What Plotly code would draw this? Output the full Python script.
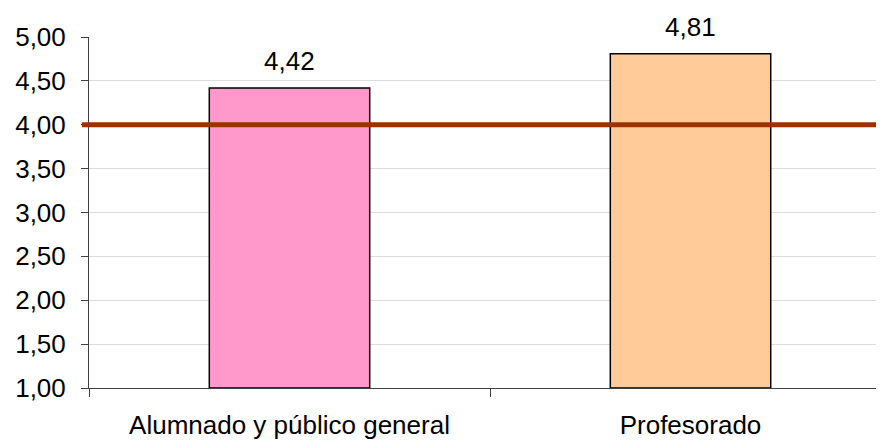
import plotly.graph_objects as go

categories = ["Alumnado y público general", "Profesorado"]
values = [4.42, 4.81]
bar_colors = ["#FF99CC", "#FFCC99"]
reference_value = 4.00
y_ticks = [1.0, 1.5, 2.0, 2.5, 3.0, 3.5, 4.0, 4.5, 5.0]

FONT = "Liberation Sans, Arial"
FS = 26

fig = go.Figure()
fig.add_trace(go.Bar(
    x=categories, y=[v - 1.0 for v in values], base=1.0,
    marker=dict(color=bar_colors, line=dict(color="black", width=1.5)),
    width=0.4, hoverinfo="skip",
))

for c, v in zip(categories, values):
    fig.add_annotation(x=c, y=v, text=f"{v:.2f}".replace(".", ","),
                       showarrow=False, yshift=27, yanchor="middle",
                       font=dict(size=FS, color="black", family=FONT))

fig.add_shape(type="line", xref="paper", yref="y", x0=-0.009, x1=1,
              y0=reference_value, y1=reference_value,
              line=dict(color="#993300", width=5), layer="above")

fig.update_layout(
    width=884, height=442,
    margin=dict(l=81, r=8, t=29, b=62),
    paper_bgcolor="white", plot_bgcolor="white",
    showlegend=False,
    separators=",.",
    font=dict(family=FONT, size=FS, color="black"),
)
fig.update_xaxes(
    range=[-0.5, 1.4825], showgrid=False,
    showline=True, linecolor="#404040", linewidth=1,
    ticks="outside", tickson="boundaries", ticklen=8, tickcolor="#404040",
    tickfont=dict(size=FS), ticklabelstandoff=14, fixedrange=True,
    automargin=False,
)
fig.update_yaxes(
    range=[1, 5], tickvals=y_ticks, tickformat=".2f",
    showgrid=True, gridcolor="#dddddd", gridwidth=1,
    showline=True, linecolor="#404040", linewidth=1,
    ticks="outside", ticklen=7, tickcolor="#404040",
    tickfont=dict(size=FS), ticklabelstandoff=10, zeroline=False,
    automargin=False,
)

fig.write_html("out.html")
